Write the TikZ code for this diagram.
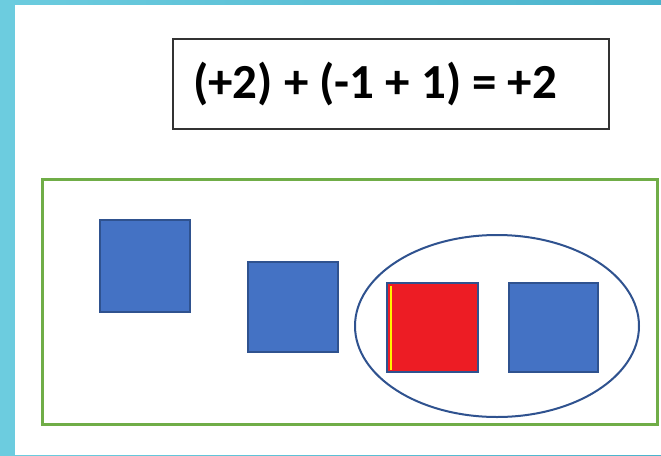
\documentclass[tikz,border=0pt]{standalone}
\usepackage{fontspec}
\setmainfont{Carlito}
\usetikzlibrary{shapes.geometric}
\definecolor{tealA}{HTML}{6CCCDF}
\definecolor{tealB}{HTML}{4AB3CC}
\definecolor{sqfill}{HTML}{4472C4}
\definecolor{sqline}{HTML}{2F528F}
\definecolor{grn}{HTML}{70AD47}
\definecolor{redfill}{HTML}{ED1C24}
\tikzset{
  sq/.style={draw=sqline, line width=2.5pt, fill=sqfill},
  redsq/.style={draw=sqline, line width=2.5pt, fill=redfill},
}
\begin{document}
\begin{tikzpicture}[x=1pt,y=-1pt]
\useasboundingbox (0,0) rectangle (661,455);
\shade[left color=tealA, right color=tealB] (0,0) rectangle (661,455);
\fill[white] (15,5) rectangle (661,455);
\node[draw=black!80, line width=1.3pt, minimum width=436pt, minimum height=90pt, inner sep=0pt] (eqbox) at (391,84) {};
\node[inner sep=0pt, anchor=west] (eq) at (193,84) {\fontsize{49}{59}\selectfont\bfseries (+2) + (-1 + 1) = +2};
\draw[grn, line width=3pt] (42,179) rectangle (657,424);
\coordinate (g) at (42,179);
\draw[sq] (100,220) rectangle (190,312);
\draw[sq] (248,262) rectangle (338,352);
\draw[redsq] (387,283) rectangle (478,372);
\fill[yellow] (389.5,285.5) rectangle (391.5,369.5);
\draw[sq] (509,283) rectangle (598,372);
\node[draw=sqline, line width=2pt, ellipse, minimum width=284pt, minimum height=182pt, inner sep=0pt] (oval) at (497,326) {};
\end{tikzpicture}
\end{document}
